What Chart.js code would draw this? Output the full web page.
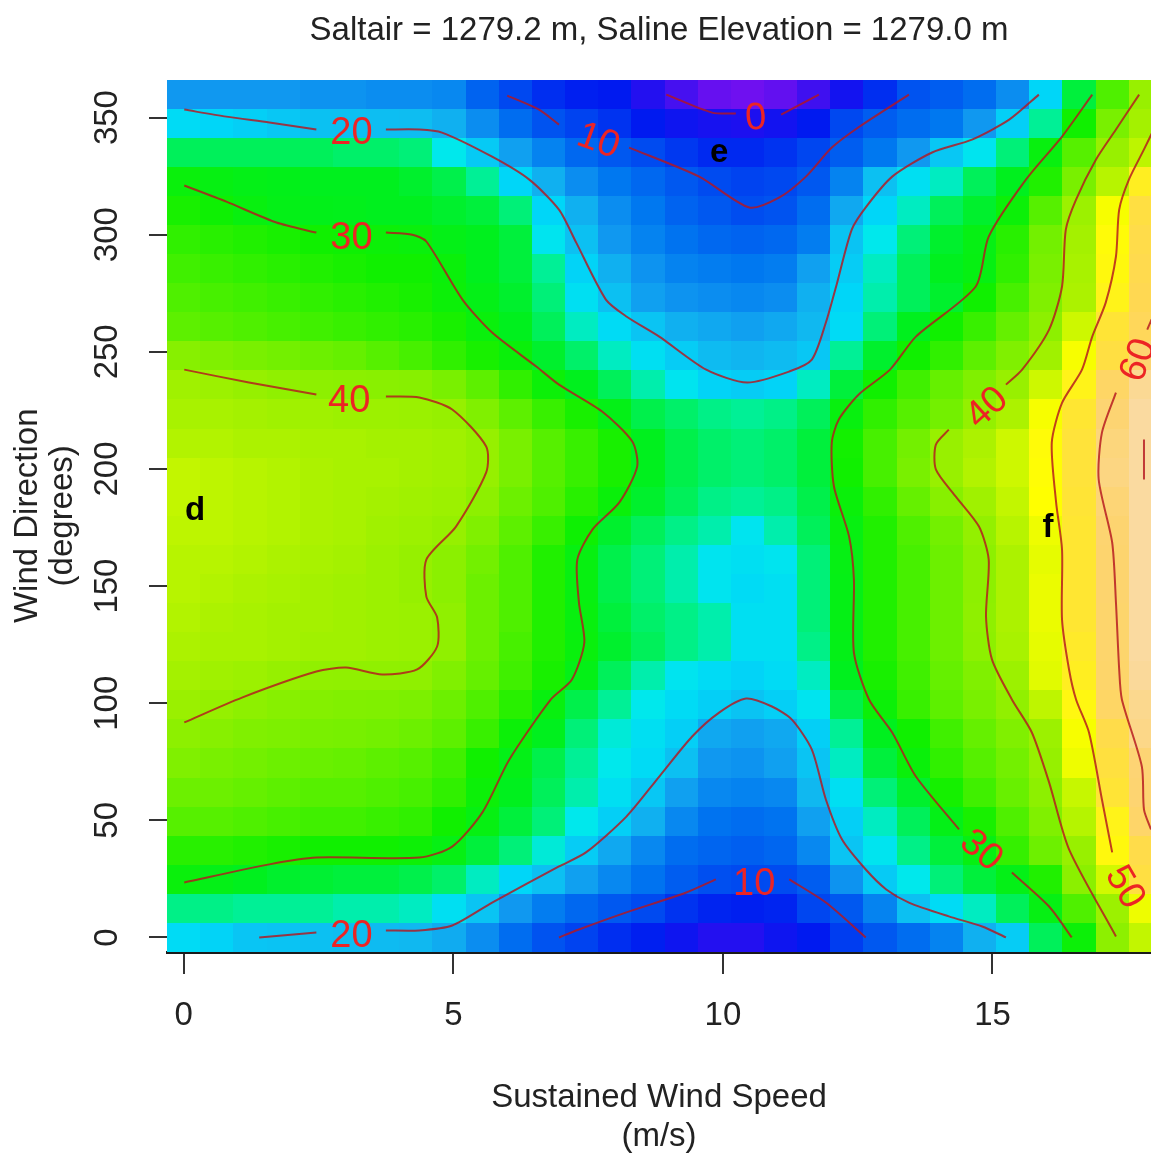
<!DOCTYPE html>
<html>
<head>
<meta charset="utf-8">
<script src="https://cdn.jsdelivr.net/npm/chart.js@4.4.1/dist/chart.umd.min.js"></script>
<style>
  html, body { margin: 0; padding: 0; background: #fff; }
  #wrap { width: 1151px; height: 1157px; }
</style>
</head>
<body>
<div id="wrap"><canvas id="chart"></canvas></div>
<script>
// Grid centres (wind speed in m/s, wind direction in degrees)
const speeds = [0, 0.615, 1.23, 1.845, 2.46, 3.075, 3.69, 4.305, 4.92, 5.535, 6.15, 6.765, 7.38, 7.995, 8.61,
  9.225, 9.84, 10.455, 11.07, 11.685, 12.3, 12.915, 13.53, 14.145, 14.76, 15.375, 15.99, 16.605, 17.22, 17.835];
const directions = [0, 12.41, 24.83, 37.24, 49.66, 62.07, 74.48, 86.9, 99.31, 111.72, 124.14, 136.55, 148.97,
  161.38, 173.79, 186.21, 198.62, 211.03, 223.45, 235.86, 248.28, 260.69, 273.1, 285.52, 297.93, 310.34,
  322.76, 335.17, 347.59, 360];

// Cell values, one row per direction (bottom row first)
const values = [
  [21.5, 20.8, 19.9, 19.7, 19.5, 19.3, 19.2, 19, 18.2, 16, 13, 10.5, 9, 7, 5.5, 3.5, 1.5, 1.5, 3.5, 5, 8.5, 11, 13, 15, 18.5, 20.3, 27, 30.5, 39.5, 45],
  [25.5, 25.5, 25, 25, 25, 24.5, 24.5, 24, 22, 19.8, 17, 14.5, 12.5, 11, 9.7, 7.5, 6, 5.5, 6, 9.3, 11, 15, 19.5, 21.5, 24, 27, 29.7, 35, 41, 48],
  [30.2, 29.5, 29, 28.5, 28.3, 28, 28, 27.5, 26.5, 24, 21, 19.5, 17.5, 15.5, 13.5, 11.5, 10.2, 9.7, 9.8, 11.5, 16.5, 20.2, 23, 26, 28, 29.5, 32, 39.3, 46.3, 54],
  [32.5, 32.5, 32, 31.5, 31, 31, 31, 30.6, 29.7, 28, 26, 23.5, 20.3, 18, 15.5, 13, 12.2, 11.7, 12.3, 15.5, 19.8, 22.5, 25.5, 28, 29.8, 33.3, 37.1, 40.5, 49.8, 55],
  [35.5, 35.5, 35, 34.5, 34, 34, 33.5, 33, 31, 29.8, 28, 26, 23, 20.5, 18.5, 15.5, 13.5, 13, 13.5, 17.5, 20.5, 24, 27, 29.5, 31.5, 35, 38.5, 43.8, 50.5, 59],
  [37, 37, 36.5, 36, 35.5, 35.5, 35, 34.5, 33, 30.5, 29, 27, 24.5, 22, 20, 17.5, 15.5, 15, 15.5, 19, 22, 26, 28.5, 31.3, 34, 36.7, 39.5, 45.4, 52.5, 60.1],
  [38.5, 38, 37.5, 37, 36.8, 36.5, 36, 35.5, 34, 31, 29.5, 27.5, 25, 23, 21.5, 19.5, 17, 16.5, 17.5, 19.8, 24, 28, 30.3, 33, 35.5, 37.5, 40.2, 48, 53.6, 60.3],
  [39.5, 39, 38.5, 38.3, 38, 37.8, 37.5, 37, 36, 33.5, 30.5, 29, 26, 23.5, 22, 20.5, 18, 17.5, 18, 20.5, 25, 29, 31, 34, 36.5, 38.5, 41, 48.5, 55, 62],
  [40.7, 40.1, 39.5, 39, 38.8, 38.6, 38.5, 38.2, 37, 35, 32.5, 30, 27.5, 25, 23, 21.5, 20.5, 19.7, 20.5, 22.5, 27.5, 30.5, 33.5, 36, 38, 39.8, 44.6, 50, 58.5, 62.5],
  [42, 41.5, 41, 40.3, 39.8, 39.7, 39.7, 39.6, 38.5, 36.5, 34, 31.5, 29.5, 27, 24.5, 22.5, 21.5, 20.8, 21.5, 24, 29, 31.5, 34, 36.5, 38.5, 41, 47.2, 51, 59.2, 63.5],
  [43, 42.5, 42.5, 42, 41.5, 41.5, 41, 40.8, 39.7, 37, 34.5, 32, 30.1, 28.5, 27, 25.5, 24.5, 22, 22, 25.5, 29.5, 32, 34.5, 37, 39.5, 42.5, 47.5, 51.5, 59.5, 64],
  [43.5, 43, 42.5, 42, 42, 41.5, 41, 40.8, 39.7, 37, 35, 32, 30, 28, 26.5, 25.5, 24.5, 22, 22, 26, 29.6, 32, 34.5, 37, 39.6, 43, 47.8, 52, 59.5, 64],
  [44, 43.5, 43, 42.5, 42, 41.5, 41, 40.3, 39.3, 37, 35, 32, 29.9, 27.5, 26, 24.5, 22.5, 21.5, 22, 26, 29.6, 32, 34.5, 37, 39.5, 43, 47.8, 52, 59.7, 64],
  [44, 44, 43.5, 43, 42.5, 42, 41, 40.3, 39.3, 37.5, 35, 32, 29.9, 27.5, 26, 24.5, 22.5, 22, 22.5, 26, 29.7, 32, 34.5, 37, 39.5, 43, 47.5, 52, 59.8, 64],
  [44.5, 44.5, 44, 43.5, 43, 42.5, 41.5, 41, 40.2, 38.5, 36, 33.5, 30.8, 28.5, 27, 25.5, 24.5, 22.5, 24.5, 27, 29.9, 32, 35, 37.5, 39.9, 44, 48, 52, 60, 64],
  [45, 44.5, 44, 43.5, 43, 42.5, 42, 41.5, 41, 39.5, 37, 35, 32.5, 30.3, 28.5, 27, 25.5, 25, 25.5, 27.5, 30.3, 33, 36.5, 39, 41.5, 45, 49, 52.5, 60.5, 64.5],
  [45, 44.5, 44, 43.5, 43, 42.5, 42.5, 42, 41.5, 40.3, 38, 35.5, 33.5, 31.5, 29, 27.5, 26.5, 26, 26.5, 28, 31, 34.5, 38, 40.5, 43.5, 46, 49.3, 53, 61.5, 65],
  [43.5, 43.5, 43, 43, 42.5, 42.5, 42, 42, 41.5, 40.2, 38, 35.5, 33.5, 31.5, 29, 27.5, 26.5, 26, 26.5, 28, 31.2, 34.5, 37.5, 40.5, 43, 46, 49.5, 53, 61, 65],
  [42.5, 42.5, 42, 41.5, 41.5, 41, 41, 40.8, 40.3, 38.5, 36, 33.5, 31.5, 29.5, 27.5, 26.5, 25.5, 25, 25.5, 27, 30, 33, 35.5, 37.5, 40, 43, 48.5, 52, 60.2, 64],
  [41.5, 41, 40.3, 39.7, 39.5, 39.3, 39.2, 39, 38, 36, 33, 30.5, 29, 27, 24.5, 22.5, 20.8, 20.3, 20.8, 24, 28, 31, 34, 36.5, 38.5, 40.5, 46, 50.5, 58.5, 63],
  [39, 38.5, 38, 37.5, 37, 36.5, 35.5, 34.5, 33, 31.5, 30.3, 28.5, 26.5, 24, 22, 20.3, 19.2, 18.8, 19.2, 20, 25, 28.5, 31, 33, 36, 38.5, 41.5, 48.5, 54, 60],
  [36, 35.5, 35, 34.5, 34, 33.5, 33, 32.5, 31.5, 30.2, 29, 27, 24, 21.5, 19.8, 18.5, 18, 17.5, 18, 19, 21.5, 26, 29, 31, 33.5, 36.5, 39.5, 46, 52.5, 57],
  [35, 34.5, 34, 33.5, 33, 32.5, 32, 31.5, 30.5, 29.5, 28.5, 26, 22, 19.5, 17.5, 16.5, 16, 15.5, 16, 18.5, 21, 24.5, 27, 28.5, 31, 34.5, 38.5, 43, 50.5, 56],
  [34, 33.5, 33, 32.5, 32, 31.5, 31, 31, 30.3, 29, 28, 25, 20.8, 18.5, 16.5, 15, 14.5, 14, 14.5, 17.5, 20.3, 24, 27, 29, 29.8, 33, 38, 42.5, 49.8, 55.5],
  [33, 32.5, 32, 31.5, 31, 30.8, 30.5, 30.2, 29.5, 29, 28, 22.5, 19.5, 17, 15, 13.5, 12.5, 12, 12.5, 14.5, 19.7, 23, 26, 28.5, 29.7, 32.5, 37.5, 42, 49.5, 55],
  [31.5, 30.8, 30, 29.5, 29.3, 29.2, 29, 29, 28.5, 28, 26, 21, 18.5, 16, 14, 12, 11, 10, 10.5, 13, 18, 21, 24, 27, 28.5, 30.5, 35.5, 41, 48.5, 54],
  [30.2, 29.8, 29.5, 29.3, 29, 29, 29, 28.5, 27.5, 25, 21, 18.5, 16, 14, 12.5, 11, 9.8, 9, 9.5, 11, 15, 19.5, 22, 24, 27, 29, 32, 38, 44, 51],
  [27, 27, 27, 27, 27, 26.5, 26.5, 26, 23, 20.2, 17.5, 15, 12.5, 11, 9.8, 8, 6.5, 6.5, 7.5, 9.3, 11.5, 14, 17, 20, 22.5, 26, 30, 35.5, 40.5, 44.5],
  [21.5, 21, 20.5, 20, 19.6, 19.5, 19.4, 19.3, 18.5, 16, 13, 10.5, 9, 7.5, 5, 3.5, 2.5, 2, 3, 5, 9.5, 11.5, 13, 14, 17, 20.5, 25, 31, 38, 42],
  [17, 17, 17, 17, 16.5, 16.5, 16, 16, 15.5, 12, 9.5, 7, 5.5, 5, 1.5, -1, -4, -5, -3.5, -0.5, 3, 7, 10.5, 11.5, 13, 16, 21, 28, 35, 40.5]
];

// Contour lines: [speed, direction] points, one list per unbroken piece
const contour0 = [
  [[8.95, 359.8], [9.80, 352.1], [10.24, 351.7]],
  [[11.08, 351.3], [11.78, 359.8]]
];
const contour10Top = [
  [[6.00, 359.4], [6.59, 353.4], [6.96, 347.0]],
  [[8.26, 337.2], [9.56, 324.8], [10.49, 311.6], [11.04, 315.8], [11.54, 324.8], [12.02, 337.2], [12.53, 346.1], [13.45, 359.8]]
];
const contour10Bottom = [
  [[6.96, 0], [7.33, 3.4], [8.21, 10.7], [9.32, 19.2], [9.87, 24.8]],
  [[11.23, 24.8], [11.91, 14.9], [12.65, 0]]
];
const contour20Top = [
  [[0.01, 353.4], [0.79, 350.4], [1.59, 347.9], [2.46, 344.9]],
  [[3.75, 344.9], [4.37, 344.9], [4.79, 343.6], [5.72, 333.3], [6.41, 323.5], [6.96, 310.7], [7.28, 296.6],
   [7.83, 272.3], [8.21, 265.1], [8.82, 256.5], [9.69, 242.4], [10.45, 236.9], [11.23, 241.6], [11.65, 246.7],
   [11.91, 262.5], [12.10, 277.9], [12.39, 302.2], [12.66, 312.0], [13.14, 324.8], [13.88, 335.1], [14.62, 340.6],
   [15.31, 349.1], [15.86, 359.8]]
];
const contour20Bottom = [
  [[1.40, 0], [2.46, 2.1]],
  [[3.75, 3.0], [4.37, 3.0], [4.98, 5.1], [5.72, 14.9], [6.96, 30.3], [7.46, 36.3], [8.21, 51.6], [8.82, 68.7],
   [9.43, 85.8], [9.93, 96.0], [10.43, 102.0], [10.91, 98.6], [11.28, 93.0], [11.65, 80.2], [11.91, 58.9],
   [12.21, 41.8], [12.65, 29.0], [13.03, 20.5], [13.45, 14.9], [14.19, 9.0], [14.81, 4.7], [15.25, 0]]
];
const contour30Left = [
  [[0.01, 321.0], [0.79, 314.1], [1.72, 305.2], [2.46, 300.9]],
  [[3.75, 300.9], [4.24, 300.0], [4.50, 297.1], [5.17, 272.3], [5.72, 258.2], [6.54, 243.7], [6.96, 236.0],
   [7.76, 224.5], [8.32, 211.7], [8.41, 201.0], [8.08, 185.7], [7.58, 174.1], [7.30, 161.3], [7.33, 143.0],
   [7.43, 125.9], [7.20, 110.1], [6.81, 101.6], [6.04, 76.0], [5.54, 53.4], [4.98, 38.8], [4.37, 34.1],
   [2.46, 34.1], [1.59, 31.2], [0.01, 23.5]]
];
const contour30Right = [
  [[16.85, 359.8], [16.29, 341.9], [15.62, 323.5], [14.93, 299.2], [14.69, 277.9], [13.58, 256.5], [13.10, 242.4],
   [12.52, 231.8], [12.15, 221.1], [12.02, 211.3], [12.06, 192.5], [12.34, 171.2], [12.43, 152.8], [12.43, 121.6],
   [12.71, 101.6], [13.14, 87.5], [13.58, 68.7], [14.38, 46.1]],
  [[15.36, 27.7], [16.05, 13.2], [16.47, 0]]
];
const contour40Left = [
  [[0.01, 242.4], [1.21, 236.9], [2.46, 231.8]],
  [[3.75, 230.9], [4.37, 230.5], [4.98, 225.4], [5.61, 209.6], [5.61, 198.5], [5.05, 175.4], [4.50, 161.3],
   [4.50, 145.5], [4.70, 136.6], [4.70, 124.2], [4.33, 114.4], [3.68, 112.3], [3.01, 115.2], [2.46, 113.5],
   [1.08, 102.4], [0.01, 91.8]]
];
const contour40Right = [
  [[17.72, 359.8], [17.29, 344.9], [16.92, 332.1], [16.55, 315.0], [16.36, 302.2], [16.29, 277.9], [16.05, 259.5],
   [15.55, 242.4], [15.25, 236.0]],
  [[14.19, 216.8], [13.95, 210.4], [13.95, 199.8], [14.32, 188.2], [14.75, 175.4], [14.93, 161.3], [14.88, 137.0],
   [14.99, 118.7], [15.36, 101.6], [15.73, 87.5], [16.05, 66.2], [16.42, 37.6], [17.29, 0.4]]
];
const contour50 = [
  [[17.99, 344.9], [17.81, 336.4], [17.53, 323.5], [17.35, 310.7], [17.29, 290.7], [17.10, 271.0], [16.85, 256.5],
   [16.66, 242.4], [16.29, 228.2], [16.10, 211.3], [16.18, 185.7], [16.29, 165.6], [16.29, 135.7], [16.42, 114.4],
   [16.55, 101.6], [16.79, 87.5], [17.03, 58.9], [17.22, 36.3]]
];
const contour60 = [
  [[17.99, 265.9], [17.87, 259.5]],
  [[17.29, 232.6], [17.03, 215.5], [16.97, 195.5], [17.22, 168.6], [17.29, 143.0], [17.35, 114.4], [17.40, 101.6],
   [17.77, 73.0], [17.81, 54.6], [17.94, 46.1]],
  [[17.81, 212.6], [17.81, 195.5]]
];

// Contour level labels: text, speed, direction, angle (degrees)
const contourLabels = [
  ['0', 10.61, 350.4, -4],
  ['10', 7.70, 340.6, 20],
  ['10', 10.58, 23.5, 0],
  ['20', 3.11, 344.0, 0],
  ['20', 3.11, 1.3, 0],
  ['30', 3.11, 299.2, 0],
  ['30', 14.81, 37.6, 40],
  ['40', 3.07, 229.6, 0],
  ['40', 14.88, 226.6, -42],
  ['50', 17.48, 21.8, 60],
  ['60', 17.68, 246.7, -70]
];

// Site letters
const siteLetters = [['d', 0.21, 182.3], ['e', 9.93, 335.1], ['f', 16.03, 175.0]];

const xTicks = [0, 5, 10, 15];
const yTicks = [0, 50, 100, 150, 200, 250, 300, 350];

// colour ramp for cell values
const ramp = [
  [-6, [120, 16, 240]], [-2, [84, 16, 240]], [2, [28, 16, 240]], [5, [0, 26, 240]], [8, [0, 56, 240]],
  [11, [0, 88, 240]], [14, [0, 120, 240]], [17, [16, 152, 240]], [19, [16, 184, 240]], [21, [0, 214, 248]],
  [23, [0, 232, 236]], [25, [0, 240, 150]], [27, [0, 240, 90]], [29, [0, 240, 30]], [31, [16, 240, 0]],
  [34, [64, 240, 0]], [37, [108, 240, 0]], [40, [148, 240, 0]], [43, [172, 242, 0]], [46, [205, 248, 0]],
  [49, [255, 255, 0]], [52, [255, 230, 50]], [56, [255, 216, 82]], [60, [253, 212, 112]], [64, [250, 218, 160]]
];

function colourFor(v) {
  if (v <= ramp[0][0]) return `rgb(${ramp[0][1].join(',')})`;
  for (let k = 1; k < ramp.length; k++) {
    if (v <= ramp[k][0]) {
      const [v0, c0] = ramp[k - 1];
      const [v1, c1] = ramp[k];
      const t = (v - v0) / (v1 - v0);
      const c = c0.map((a, n) => Math.round(a + (c1[n] - a) * t));
      return `rgb(${c.join(',')})`;
    }
  }
  return `rgb(${ramp[ramp.length - 1][1].join(',')})`;
}

function edgesOf(centres) {
  const n = centres.length;
  const e = [centres[0] - (centres[1] - centres[0]) / 2];
  for (let k = 0; k < n - 1; k++) e.push((centres[k] + centres[k + 1]) / 2);
  e.push(centres[n - 1] + (centres[n - 1] - centres[n - 2]) / 2);
  return e;
}
const xEdges = edgesOf(speeds);
const yEdges = edgesOf(directions);

// heat map cells under the contour datasets, labels on top
const heatmapPlugin = {
  id: 'heatmap',
  beforeDatasetsDraw(chart) {
    const { ctx, chartArea, scales: { x, y } } = chart;
    ctx.save();
    ctx.beginPath();
    ctx.rect(chartArea.left, chartArea.top, chartArea.width, chartArea.height);
    ctx.clip();
    for (let j = 0; j < directions.length; j++) {
      const top = Math.round(y.getPixelForValue(yEdges[j + 1]));
      const bottom = Math.round(y.getPixelForValue(yEdges[j]));
      for (let i = 0; i < speeds.length; i++) {
        const left = Math.round(x.getPixelForValue(xEdges[i]));
        const right = Math.round(x.getPixelForValue(xEdges[i + 1]));
        ctx.fillStyle = colourFor(values[j][i]);
        ctx.fillRect(left, top, right - left, bottom - top);
      }
    }
    ctx.restore();
  },
  afterDatasetsDraw(chart) {
    const { ctx, chartArea, scales: { x, y } } = chart;
    ctx.save();
    ctx.beginPath();
    ctx.rect(chartArea.left, chartArea.top, chartArea.width, chartArea.height);
    ctx.clip();
    ctx.textAlign = 'center';
    ctx.textBaseline = 'middle';
    ctx.font = '38px "Liberation Sans", Arial, sans-serif';
    ctx.fillStyle = '#ec2424';
    contourLabels.forEach(([txt, sx, dy, ang]) => {
      ctx.save();
      ctx.translate(x.getPixelForValue(sx), y.getPixelForValue(dy));
      ctx.rotate(ang * Math.PI / 180);
      ctx.fillText(txt, 0, 2);
      ctx.restore();
    });
    ctx.font = 'bold 33px "Liberation Sans", Arial, sans-serif';
    ctx.fillStyle = '#000';
    siteLetters.forEach(([txt, sx, dy]) => {
      ctx.fillText(txt, x.getPixelForValue(sx), y.getPixelForValue(dy));
    });
    ctx.restore();
  }
};

const allContours = [contour0, contour10Top, contour10Bottom, contour20Top, contour20Bottom, contour30Left,
  contour30Right, contour40Left, contour40Right, contour50, contour60];

const datasets = [];
allContours.forEach(pieces => {
  pieces.forEach(piece => {
    datasets.push({
      data: piece.map(p => ({ x: p[0], y: p[1] })),
      showLine: true,
      borderColor: 'rgba(180, 22, 30, 0.82)',
      borderWidth: 2,
      pointRadius: 0,
      tension: 0.25,
      fill: false
    });
  });
});

Chart.defaults.font.family = '"Liberation Sans", Arial, sans-serif';
Chart.defaults.color = '#222';

new Chart(document.getElementById('chart'), {
  type: 'scatter',
  data: { datasets },
  plugins: [heatmapPlugin],
  options: {
    responsive: true,
    maintainAspectRatio: false,
    devicePixelRatio: 1,
    animation: false,
    events: [],
    layout: { padding: 0 },
    plugins: {
      legend: { display: false },
      tooltip: { enabled: false },
      title: {
        display: true,
        fullSize: false,
        text: 'Saltair = 1279.2 m, Saline Elevation = 1279.0 m',
        color: '#222',
        font: { size: 33, weight: 'normal', lineHeight: 1.2 },
        padding: { top: 11, bottom: 29 }
      }
    },
    scales: {
      x: {
        type: 'linear',
        position: 'bottom',
        min: -0.31,
        max: 17.94,
        afterBuildTicks: axis => { axis.ticks = xTicks.map(v => ({ value: v })); },
        afterFit: scale => { scale.height = 205; },
        grid: { drawOnChartArea: false, drawTicks: true, tickLength: 22, color: '#333', lineWidth: 2 },
        border: { display: true, color: '#1a1a1a', width: 3 },
        ticks: { font: { size: 33 }, padding: 22, color: '#222', maxRotation: 0 },
        title: {
          display: true,
          text: ['Sustained Wind Speed', '(m/s)'],
          color: '#222',
          font: { size: 33, lineHeight: 1.2 },
          padding: { top: 0, bottom: 0 }
        }
      },
      y: {
        type: 'linear',
        position: 'left',
        min: -6.21,
        max: 366.21,
        afterBuildTicks: axis => { axis.ticks = yTicks.map(v => ({ value: v })); },
        afterFit: scale => { scale.width = 167; },
        grid: { drawOnChartArea: false, drawTicks: true, tickLength: 18, color: '#333', lineWidth: 2 },
        border: { display: false },
        ticks: { font: { size: 33 }, padding: 14, color: '#222', minRotation: 90, maxRotation: 90, crossAlign: 'center' },
        title: {
          display: true,
          text: ['Wind Direction', '(degrees)'],
          color: '#222',
          font: { size: 33, lineHeight: 1.05 },
          padding: { top: 11, bottom: 0 }
        }
      }
    }
  }
});
</script>
</body>
</html>
